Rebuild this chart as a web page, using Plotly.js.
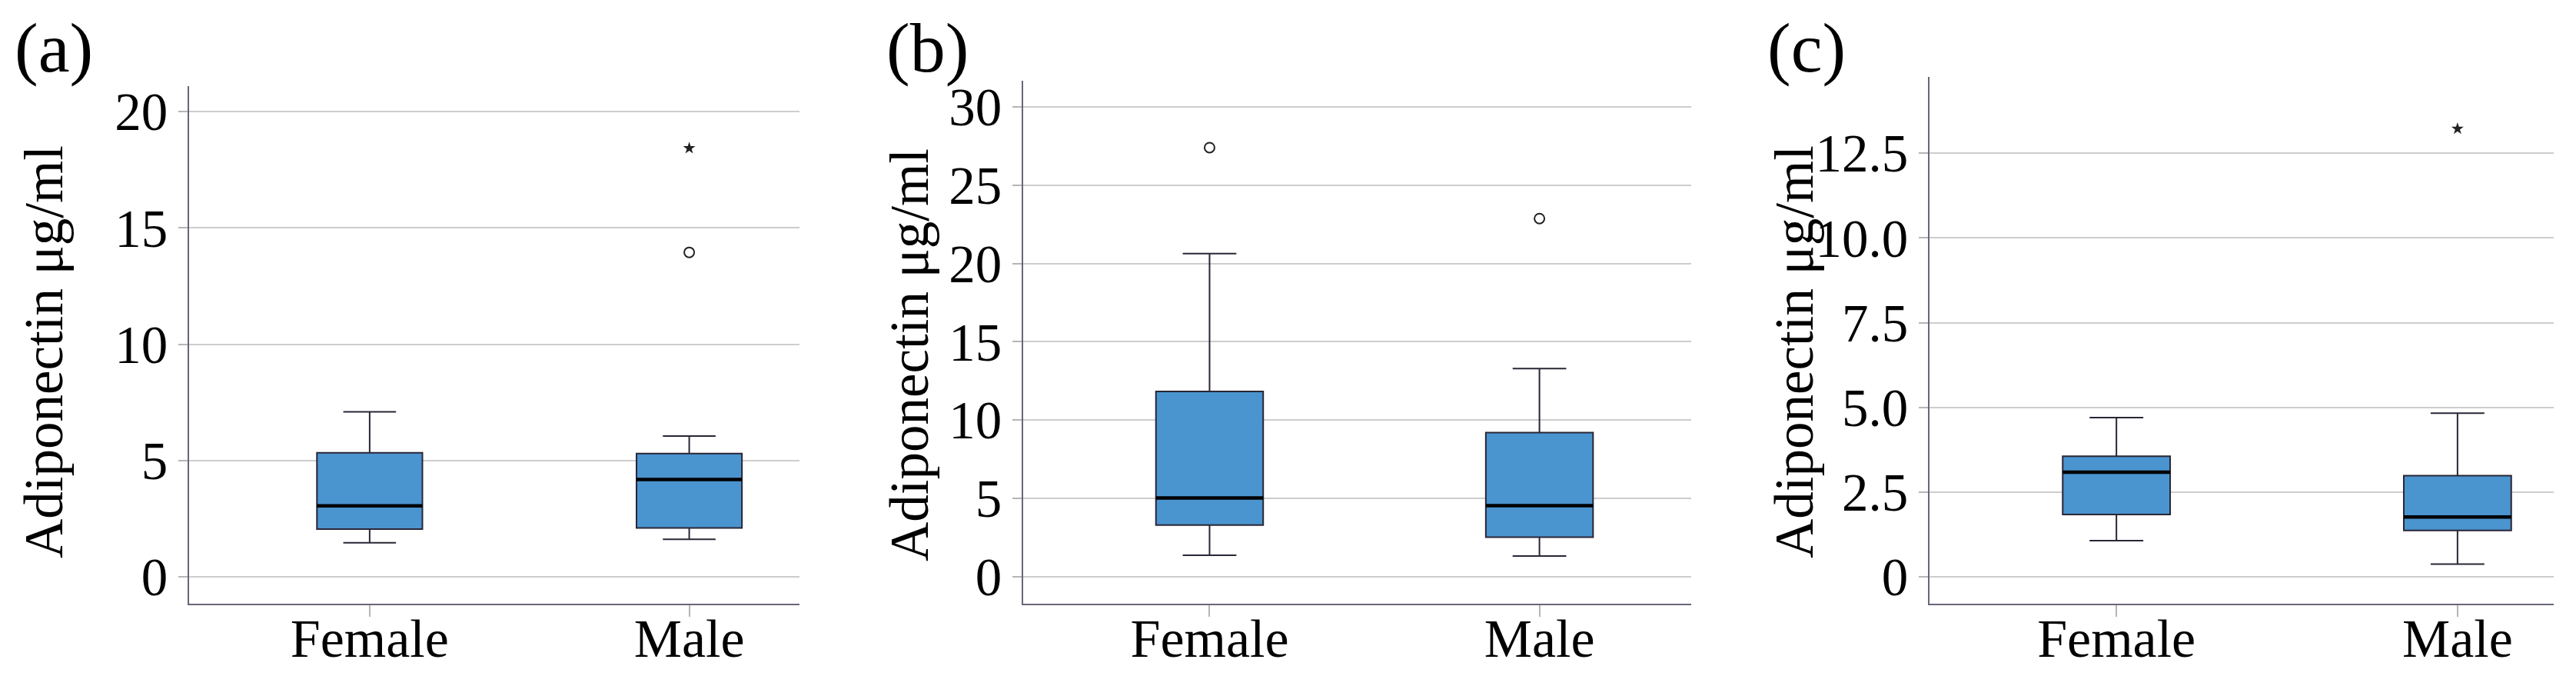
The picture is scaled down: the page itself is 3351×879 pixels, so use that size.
<!DOCTYPE html>
<html>
<head>
<meta charset="utf-8">
<script src="https://cdn.plot.ly/plotly-3.0.1.min.js"></script>
<style>html,body{margin:0;padding:0;background:#fff;}#chart{width:3351px;height:879px;}</style>
</head>
<body>
<div id="chart"></div>
<script>
// ---- data ----
const categories = ['Female', 'Male'];

// panel (a)
const aQ1 = [2.05, 2.10];
const aMedian = [3.05, 4.18];
const aQ3 = [5.33, 5.30];
const aLower = [1.46, 1.61];
const aUpper = [7.09, 6.05];
const aCircleX = ['Male'];
const aCircleY = [13.95];
const aStarX = ['Male'];
const aStarY = [18.43];
const aTicks = [0, 5, 10, 15, 20];
const aTickText = ['0', '5', '10', '15', '20'];

// panel (b)
const bQ1 = [3.30, 2.53];
const bMedian = [5.03, 4.54];
const bQ3 = [11.83, 9.21];
const bLower = [1.37, 1.32];
const bUpper = [20.64, 13.29];
const bCircleX = ['Female', 'Male'];
const bCircleY = [27.4, 22.87];
const bTicks = [0, 5, 10, 15, 20, 25, 30];
const bTickText = ['0', '5', '10', '15', '20', '25', '30'];

// panel (c)
const cQ1 = [1.84, 1.37];
const cMedian = [3.09, 1.77];
const cQ3 = [3.56, 2.99];
const cLower = [1.07, 0.38];
const cUpper = [4.70, 4.83];
const cStarX = ['Male'];
const cStarY = [13.22];
const cTicks = [0, 2.5, 5, 7.5, 10, 12.5];
const cTickText = ['0', '2.5', '5.0', '7.5', '10.0', '12.5'];

const yTitle = 'Adiponectin μg/ml';
const panelLabels = ['(a)', '(b)', '(c)'];

// ---- styles ----
const FONT = 'Liberation Serif, Times New Roman, serif';
const BOXFILL = '#4a94cf';
const BOXLINE = '#2a2636';
const W = 3351, H = 879;

function boxTraces(xa, ya, q1, med, q3, lo, up, bw) {
  return [
    {type: 'box', x: categories, q1: q1, median: med, q3: q3, lowerfence: lo, upperfence: up,
     xaxis: xa, yaxis: ya, width: bw, whiskerwidth: 0.5, boxpoints: false,
     fillcolor: BOXFILL, line: {color: BOXLINE, width: 2}, hoverinfo: 'skip', showlegend: false},
    {type: 'box', x: categories, q1: med, median: med, q3: med, lowerfence: med, upperfence: med,
     xaxis: xa, yaxis: ya, width: bw, whiskerwidth: 0, boxpoints: false,
     fillcolor: 'rgba(0,0,0,0)', line: {color: '#000000', width: 4.5}, hoverinfo: 'skip', showlegend: false}
  ];
}
function circles(xa, ya, x, y) {
  return {type: 'scatter', mode: 'markers', x: x, y: y, xaxis: xa, yaxis: ya, showlegend: false,
    marker: {symbol: 'circle-open', size: 13, color: '#222', line: {width: 2, color: '#222'}}};
}
function stars(xa, ya, x, y) {
  return {type: 'scatter', mode: 'markers', x: x, y: y, xaxis: xa, yaxis: ya, showlegend: false,
    marker: {symbol: 'star', size: 12, color: '#222', line: {width: 0}}};
}

const traces = [].concat(
  boxTraces('x', 'y', aQ1, aMedian, aQ3, aLower, aUpper, 0.33),
  [circles('x', 'y', aCircleX, aCircleY), stars('x', 'y', aStarX, aStarY)],
  boxTraces('x2', 'y2', bQ1, bMedian, bQ3, bLower, bUpper, 0.325),
  [circles('x2', 'y2', bCircleX, bCircleY)],
  boxTraces('x3', 'y3', cQ1, cMedian, cQ3, cLower, cUpper, 0.315),
  [stars('x3', 'y3', cStarX, cStarY)]
);

function xAxis(left, right, range, anchor) {
  return {domain: [left / W, right / W], anchor: anchor, type: 'category', range: range,
    showgrid: false, zeroline: false, showline: true, linecolor: '#6b6478', linewidth: 2,
    ticks: 'outside', ticklen: 15, tickcolor: '#b5b5b5', tickwidth: 2, ticklabelstandoff: -32,
    tickfont: {family: FONT, size: 70, color: '#000'}, fixedrange: true};
}
function yAxis(top, range, tv, tt, anchor) {
  return {domain: [1 - 785 / H, 1 - top / H], anchor: anchor, range: range,
    tickmode: 'array', tickvals: tv, ticktext: tt,
    showgrid: true, gridcolor: '#cdcdcd', gridwidth: 2, zeroline: false,
    showline: true, linecolor: '#6b6478', linewidth: 2,
    ticks: 'outside', ticklen: 12, tickcolor: '#b5b5b5', tickwidth: 2,
    tickfont: {family: FONT, size: 69, color: '#000'}, fixedrange: true};
}

const annotations = [];
const labelX = [70, 1206, 2350];
const titleX = [57, 1183, 2334];
const titleY = [458, 462, 458];
for (let i = 0; i < 3; i++) {
  annotations.push({xref: 'paper', yref: 'paper', x: labelX[i] / W, y: 1 - 62 / H,
    xanchor: 'center', yanchor: 'middle', showarrow: false, text: panelLabels[i],
    font: {family: FONT, size: 92, color: '#000'}});
  annotations.push({xref: 'paper', yref: 'paper', x: titleX[i] / W, y: 1 - titleY[i] / H,
    xanchor: 'center', yanchor: 'middle', showarrow: false, textangle: -90, text: yTitle,
    font: {family: FONT, size: 71, color: '#000'}});
}

const layout = {
  width: W, height: H, margin: {l: 0, r: 0, t: 0, b: 0},
  paper_bgcolor: '#fff', plot_bgcolor: '#fff', showlegend: false, boxmode: 'overlay',
  xaxis: xAxis(246, 1040, [-0.565, 1.345], 'y'),
  yaxis: yAxis(112, [-1.16, 21.1], aTicks, aTickText, 'x'),
  xaxis2: xAxis(1331, 2200, [-0.565, 1.46], 'y2'),
  yaxis2: yAxis(105, [-1.72, 31.67], bTicks, bTickText, 'x2'),
  xaxis3: xAxis(2510, 3322, [-0.548, 1.282], 'y3'),
  yaxis3: yAxis(100, [-0.79, 14.75], cTicks, cTickText, 'x3'),
  annotations: annotations
};

Plotly.newPlot('chart', traces, layout, {staticPlot: true, displayModeBar: false});
</script>
</body>
</html>
